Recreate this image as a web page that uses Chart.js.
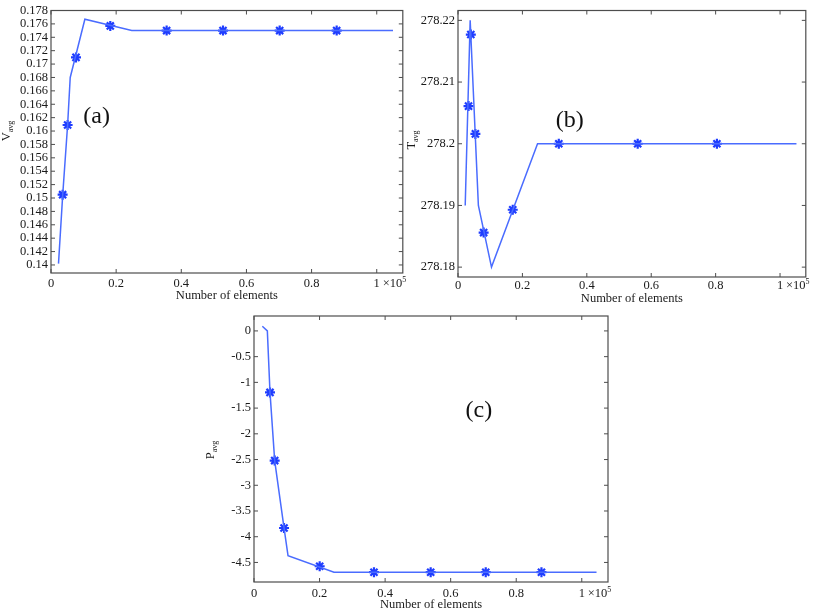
<!DOCTYPE html>
<html>
<head>
<meta charset="utf-8">
<script src="https://cdn.jsdelivr.net/npm/chart.js@4.4.1/dist/chart.umd.min.js"></script>
<style>
  body { margin: 0; background: #fff; }
  #wrap { position: relative; width: 813px; height: 612px; overflow: hidden; }
  canvas { position: absolute; }
</style>
</head>
<body>
<div id="wrap">
  <canvas id="chartA" width="410" height="305" style="left:0;top:0"></canvas>
  <canvas id="chartB" width="413" height="307" style="left:400px;top:0"></canvas>
  <canvas id="chartC" width="420" height="307" style="left:200px;top:305px"></canvas>
</div>
<script>
// x axis, shared (number of elements, x 1e5)
const xTicks = [0, 0.2, 0.4, 0.6, 0.8, 1];

// (a) average velocity
const vLineX = [0.023, 0.036, 0.051, 0.059, 0.104, 0.248, 1.05];
const vLineY = [0.1402, 0.1505, 0.1609, 0.168, 0.1767, 0.175, 0.175];
const vMarkX = [0.0357, 0.051, 0.0767, 0.182, 0.355, 0.528, 0.702, 0.877];
const vMarkY = [0.1505, 0.1609, 0.171, 0.1757, 0.175, 0.175, 0.175, 0.175];
const vTicks = [0.14, 0.142, 0.144, 0.146, 0.148, 0.15, 0.152, 0.154, 0.156, 0.158,
                0.16, 0.162, 0.164, 0.166, 0.168, 0.17, 0.172, 0.174, 0.176, 0.178];

// (b) average temperature
const tLineX = [0.0224, 0.0378, 0.0633, 0.104, 0.247, 1.051];
const tLineY = [278.19, 278.22, 278.19, 278.18, 278.2, 278.2];
const tMarkX = [0.0327, 0.0398, 0.054, 0.0796, 0.170, 0.313, 0.558, 0.804];
const tMarkY = [278.2061, 278.2177, 278.2016, 278.1856, 278.1893, 278.2, 278.2, 278.2];
const tTicks = [278.18, 278.19, 278.2, 278.21, 278.22];

// (c) average pressure
const pLineX = [0.0254, 0.0407, 0.0488, 0.0631, 0.0916, 0.1038, 0.244, 1.045];
const pLineY = [0.09, 0, -1.195, -2.52, -3.83, -4.367, -4.69, -4.69];
const pMarkX = [0.0488, 0.0631, 0.0916, 0.2004, 0.366, 0.539, 0.707, 0.877];
const pMarkY = [-1.195, -2.52, -3.83, -4.574, -4.69, -4.69, -4.69, -4.69];
const pTicks = [0, -0.5, -1, -1.5, -2, -2.5, -3, -3.5, -4, -4.5];

const SERIF = '"Liberation Serif", "Times New Roman", serif';
const LINE_COLOR = '#4a6cff';
const MARK_COLOR = '#1f3dff';
const TEXT_COLOR = '#1a1a1a';

function toPoints(xs, ys) {
    return xs.map((x, i) => ({ x: x, y: ys[i] }));
}

// MATLAB-like box with inward ticks, subscripted y title, panel tag and x10^5
const boxPlugin = {
    id: 'box',
    afterDraw(chart) {
        const { ctx, chartArea: a, scales } = chart;
        const p = chart.options.plugins.box;
        ctx.save();
        ctx.strokeStyle = '#4d4d4d';
        ctx.lineWidth = 1.2;
        ctx.strokeRect(a.left, a.top, a.right - a.left, a.bottom - a.top);
        ctx.lineWidth = 1;
        const tl = 4;
        ctx.beginPath();
        scales.x.ticks.forEach(t => {
            const px = scales.x.getPixelForValue(t.value);
            ctx.moveTo(px, a.bottom); ctx.lineTo(px, a.bottom - tl);
            ctx.moveTo(px, a.top); ctx.lineTo(px, a.top + tl);
        });
        scales.y.ticks.forEach(t => {
            const py = scales.y.getPixelForValue(t.value);
            ctx.moveTo(a.left, py); ctx.lineTo(a.left + tl, py);
            ctx.moveTo(a.right, py); ctx.lineTo(a.right - tl, py);
        });
        ctx.stroke();

        // x10^5 next to the last tick label
        const x1 = scales.x.getPixelForValue(1);
        const ly = a.bottom + p.tickPad + 7.5;
        ctx.fillStyle = TEXT_COLOR;
        ctx.textBaseline = 'middle';
        ctx.textAlign = 'left';
        ctx.font = '12.5px ' + SERIF;
        ctx.fillText('\u00d710', x1 + 6, ly);
        const w = ctx.measureText('\u00d710').width;
        ctx.font = '8px ' + SERIF;
        ctx.fillText('5', x1 + 6 + w, ly - 4);

        // y title, rotated, with subscript
        ctx.translate(p.titleX, p.titleY);
        ctx.rotate(-Math.PI / 2);
        ctx.textBaseline = 'alphabetic';
        ctx.font = '12.5px ' + SERIF;
        const bw = ctx.measureText(p.base).width;
        ctx.font = '8px ' + SERIF;
        const sw = ctx.measureText('avg').width;
        const start = -(bw + sw) / 2;
        ctx.font = '12.5px ' + SERIF;
        ctx.fillText(p.base, start, 0);
        ctx.font = '8px ' + SERIF;
        ctx.fillText('avg', start + bw, 3);
        ctx.restore();

        // panel tag
        ctx.save();
        ctx.fillStyle = '#111';
        ctx.font = '24px ' + SERIF;
        ctx.textAlign = 'center';
        ctx.textBaseline = 'middle';
        ctx.fillText(p.tag, scales.x.getPixelForValue(p.tagX), scales.y.getPixelForValue(p.tagY));
        ctx.restore();
    }
};

function makePanel(id, cfg) {
    const font = { family: SERIF, size: 12.5 };
    new Chart(document.getElementById(id), {
        type: 'scatter',
        data: {
            datasets: [{
                data: toPoints(cfg.lineX, cfg.lineY),
                showLine: true,
                borderColor: LINE_COLOR,
                borderWidth: 1.5,
                pointRadius: 0,
                tension: 0
            }, {
                data: toPoints(cfg.markX, cfg.markY),
                showLine: false,
                pointStyle: 'star',
                pointRadius: 5,
                borderWidth: 2.2,
                borderColor: MARK_COLOR,
                backgroundColor: MARK_COLOR
            }]
        },
        options: {
            responsive: false,
            animation: false,
            layout: { padding: cfg.padding },
            plugins: {
                legend: { display: false },
                tooltip: { enabled: false },
                box: {
                    base: cfg.base, titleX: cfg.titleX, titleY: cfg.titleY,
                    tag: cfg.tag, tagX: cfg.tagX, tagY: cfg.tagY, tickPad: cfg.xPad
                }
            },
            scales: {
                x: {
                    type: 'linear',
                    min: 0,
                    max: 1.08,
                    afterBuildTicks: s => { s.ticks = xTicks.map(v => ({ value: v })); },
                    afterFit: s => { s.height = cfg.xHeight; },
                    grid: { display: false, drawTicks: false },
                    border: { display: false },
                    ticks: {
                        font: font, color: TEXT_COLOR, padding: cfg.xPad,
                        maxRotation: 0, autoSkip: false,
                        callback: v => String(v)
                    },
                    title: {
                        display: true, text: 'Number of elements', color: TEXT_COLOR,
                        font: font, padding: { top: 0, bottom: cfg.titlePad }
                    }
                },
                y: {
                    type: 'linear',
                    min: cfg.yMin,
                    max: cfg.yMax,
                    afterBuildTicks: s => { s.ticks = cfg.yTicks.map(v => ({ value: v })); },
                    afterFit: s => { s.width = cfg.yWidth; },
                    grid: { display: false, drawTicks: false },
                    border: { display: false },
                    ticks: {
                        font: font, color: TEXT_COLOR, padding: 3, autoSkip: false,
                        callback: v => String(Number(v.toFixed(3)))
                    }
                }
            }
        },
        plugins: [boxPlugin]
    });
}

makePanel('chartA', {
    lineX: vLineX, lineY: vLineY, markX: vMarkX, markY: vMarkY, yTicks: vTicks,
    yMin: 0.1388, yMax: 0.178,
    padding: { left: 0, top: 7, right: 7, bottom: 0 },
    yWidth: 51, xHeight: 32, xPad: 3, titlePad: 2,
    base: 'V', titleX: 10, titleY: 131,
    tag: '(a)', tagX: 0.14, tagY: 0.1622
});

makePanel('chartB', {
    lineX: tLineX, lineY: tLineY, markX: tMarkX, markY: tMarkY, yTicks: tTicks,
    yMin: 278.1784, yMax: 278.2216,
    padding: { left: 0, top: 10, right: 2, bottom: 0 },
    yWidth: 58, xHeight: 30, xPad: 1, titlePad: 1,
    base: 'T', titleX: 15, titleY: 140,
    tag: '(b)', tagX: 0.347, tagY: 278.2038
});

makePanel('chartC', {
    lineX: pLineX, lineY: pLineY, markX: pMarkX, markY: pMarkY, yTicks: pTicks,
    yMin: -4.88, yMax: 0.29,
    padding: { left: 0, top: 11, right: 12, bottom: 0 },
    yWidth: 54, xHeight: 30, xPad: 4, titlePad: 0,
    base: 'P', titleX: 14, titleY: 145,
    tag: '(c)', tagX: 0.686, tagY: -1.557
});
</script>
</body>
</html>
